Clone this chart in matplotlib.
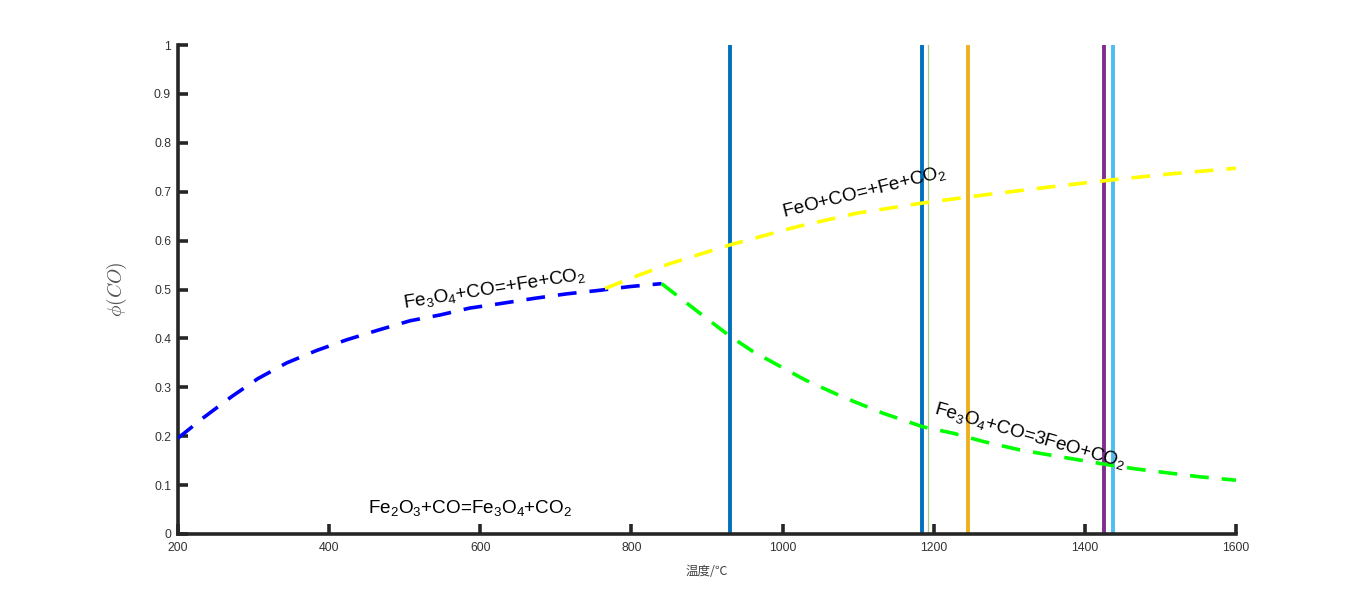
import matplotlib
matplotlib.use("Agg")

import matplotlib.pyplot as plt
from matplotlib.font_manager import FontProperties

plt.rcParams['font.family'] = ['Liberation Sans', 'Noto Sans CJK SC', 'DejaVu Sans']
plt.rcParams['mathtext.fontset'] = 'custom'
plt.rcParams['mathtext.rm'] = 'Liberation Sans'
plt.rcParams['mathtext.it'] = 'Liberation Sans:italic'

# Fe3O4 + CO = Fe + CO2 (blue)
blue_T = [200, 233, 271, 306, 344, 383, 423, 465, 507, 547, 586, 630, 672, 714, 756, 798, 840]
blue_phi = [0.196, 0.237, 0.281, 0.318, 0.350, 0.375, 0.397, 0.417, 0.436, 0.448,
            0.462, 0.472, 0.482, 0.491, 0.498, 0.506, 0.512]

# FeO + CO = Fe + CO2 (yellow)
yellow_T = [765, 811, 851, 930, 1018, 1098, 1186, 1270, 1350, 1429, 1510, 1600]
yellow_phi = [0.502, 0.530, 0.553, 0.591, 0.628, 0.656, 0.677, 0.694, 0.709, 0.723, 0.736, 0.748]

# Fe3O4 + CO = 3FeO + CO2 (green)
green_T = [840, 891, 930, 961, 1030, 1080, 1133, 1186, 1226, 1266, 1314, 1394, 1429, 1468, 1552, 1600]
green_phi = [0.512, 0.451, 0.405, 0.373, 0.315, 0.280, 0.247, 0.219, 0.206, 0.189,
             0.172, 0.151, 0.142, 0.133, 0.117, 0.110]

# vertical temperature markers
vline_T = [931, 1185, 1193, 1245, 1425, 1437]
vline_colors = ['#0072BD', '#0072BD', '#A9C98A', '#EDB120', '#7E2F8E', '#4DBEEE']
vline_widths = [2.8, 2.8, 0.9, 2.8, 2.8, 2.8]

xticks = [200, 400, 600, 800, 1000, 1200, 1400, 1600]
yticks = [0, 0.1, 0.2, 0.3, 0.4, 0.5, 0.6, 0.7, 0.8, 0.9, 1]
ytick_labels = ['0', '0.1', '0.2', '0.3', '0.4', '0.5', '0.6', '0.7', '0.8', '0.9', '1']

fig = plt.figure(figsize=(13.66, 6), dpi=100)
ax = fig.add_axes([0.1303, 0.11, 0.7745, 0.815])

for t, c, w in zip(vline_T, vline_colors, vline_widths):
    ax.axvline(t, color=c, lw=w, zorder=2)

dash = (0, (5.2, 3.6))
ax.plot(blue_T, blue_phi, color='#0000FF', lw=2.6, linestyle=dash, zorder=3)
ax.plot(yellow_T, yellow_phi, color='#FFFF00', lw=2.6, linestyle=dash, zorder=3)
ax.plot(green_T, green_phi, color='#00FF00', lw=2.6, linestyle=dash, zorder=3)

ax.set_xlim(200, 1600)
ax.set_ylim(0, 1)
ax.set_xticks(xticks)
ax.set_yticks(yticks)
ax.set_yticklabels(ytick_labels)

axcol = '#262626'
for s in ['top', 'right']:
    ax.spines[s].set_visible(False)
for s in ['left', 'bottom']:
    ax.spines[s].set_linewidth(2.6)
    ax.spines[s].set_color(axcol)
ax.tick_params(direction='in', length=7, width=2.6, color=axcol,
               labelsize=8.8, labelcolor='#333333')
ax.tick_params(axis='x', pad=6)
ax.tick_params(axis='y', pad=5)

ax.set_xlabel('温度/℃', fontsize=9, color='#444444',
              family=['Noto Sans CJK SC', 'DejaVu Sans'], labelpad=8)
ylab_fp = FontProperties(size=14, math_fontfamily='cm')
ax.set_ylabel(r'$\phi(CO)$', fontproperties=ylab_fp, color='#555555', labelpad=18)

tkw = dict(fontsize=13.6, color='black', ha='left', va='baseline', rotation_mode='anchor', zorder=5)
ax.text(452, 0.042, 'Fe$_2$O$_3$+CO=Fe$_3$O$_4$+CO$_2$', **tkw)
ax.text(500, 0.462, 'Fe$_3$O$_4$+CO=+Fe+CO$_2$', rotation=9, **tkw)
ax.text(1001, 0.648, 'FeO+CO=+Fe+CO$_2$', rotation=14, **tkw)
ax.text(1200, 0.247, 'Fe$_3$O$_4$+CO=3FeO+CO$_2$', rotation=-16, **tkw)

fig.savefig('out.png', dpi=100)
